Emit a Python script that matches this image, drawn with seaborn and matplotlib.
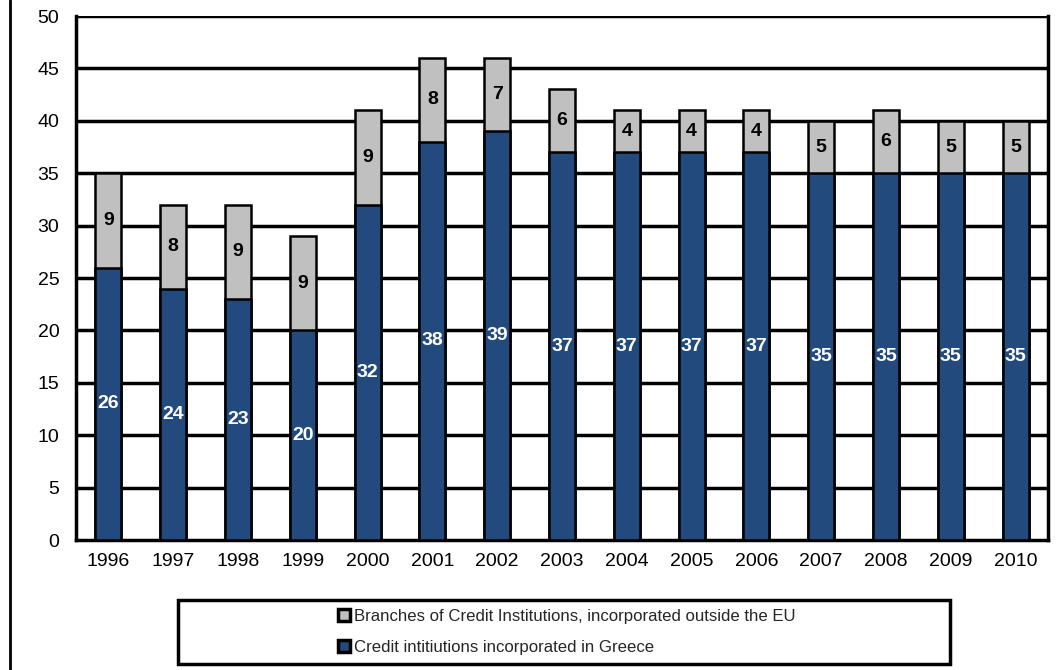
import matplotlib
matplotlib.use("Agg")
import matplotlib.pyplot as plt
import seaborn as sns
import pandas as pd
import numpy as np
from matplotlib.patches import Rectangle, Patch
from matplotlib.lines import Line2D

years = ["1996", "1997", "1998", "1999", "2000", "2001", "2002", "2003",
         "2004", "2005", "2006", "2007", "2008", "2009", "2010"]
greece = [26, 24, 23, 20, 32, 38, 39, 37, 37, 37, 37, 35, 35, 35, 35]
branches = [9, 8, 9, 9, 9, 8, 7, 6, 4, 4, 4, 5, 6, 5, 5]
series_names = ["Branches of Credit Institutions, incorporated outside the EU",
                "Credit intitiutions incorporated in Greece"]
yticks = [0, 5, 10, 15, 20, 25, 30, 35, 40, 45, 50]

BLUE = "#224A7D"
GRAY = "#C0C0C0"

sns.set_theme(style="white")
plt.rcParams['font.family'] = ['Liberation Sans', 'DejaVu Sans']

df = pd.DataFrame({"year": years, "greece": greece, "branches": branches})
df["total"] = df["greece"] + df["branches"]

fig = plt.figure(figsize=(10.59, 6.70), dpi=100)
ax = fig.add_axes([0.0718, 0.194, 0.9178, 0.782])

ax.set_axisbelow(True)
for v in yticks[1:]:
    ax.axhline(v, color="black", lw=2.5, zorder=0)

sns.barplot(data=df, x="year", y="total", color=GRAY, width=0.4,
            edgecolor="black", linewidth=1.8, saturation=1, ax=ax, zorder=2)
sns.barplot(data=df, x="year", y="greece", color=BLUE, width=0.4,
            edgecolor="black", linewidth=1.8, saturation=1, ax=ax, zorder=3)

for i, (g, b) in enumerate(zip(greece, branches)):
    ax.text(i, g / 2, str(g), ha="center", va="center", color="white",
            fontsize=14, fontweight="bold", zorder=4)
    ax.text(i, g + b / 2, str(b), ha="center", va="center", color="black",
            fontsize=14, fontweight="bold", zorder=4)

ax.set_ylim(0, 50)
ax.set_xlim(-0.5, len(years) - 0.5)
ax.set_yticks(yticks)
ax.set_yticklabels([str(v) for v in yticks], fontsize=14)
ax.set_xticks(range(len(years)))
ax.set_xticklabels(years, fontsize=14)
ax.tick_params(axis="x", which="major", length=0, pad=9, colors="black")
ax.set_xticks(np.arange(-0.5, len(years) - 0.5, 1.0), minor=True)
ax.tick_params(axis="x", which="minor", length=7, width=2.5, direction="out", color="black")
ax.tick_params(axis="y", length=8, width=2.5, direction="out", color="black", pad=4, labelcolor="black")
ax.set_xlabel("")
ax.set_ylabel("")

for side in ["left", "bottom", "right"]:
    ax.spines[side].set_visible(True)
    ax.spines[side].set_color("black")
    ax.spines[side].set_linewidth(2.5)
ax.spines["top"].set_visible(False)

fig.patches.append(Rectangle((0.168, 0.009), 0.729, 0.0955, transform=fig.transFigure,
                             fill=False, edgecolor="black", linewidth=2.5))
handles = [Patch(facecolor=GRAY, edgecolor="black", linewidth=2.5),
           Patch(facecolor=BLUE, edgecolor="black", linewidth=2.5)]
fig.legend(handles, series_names, loc="center", bbox_to_anchor=(0.535, 0.057),
           frameon=False, fontsize=12.05, handlelength=0.75, handleheight=0.75,
           handletextpad=0.2, labelspacing=0.98)

fig.add_artist(Line2D([0.0095, 0.0095], [0, 1], transform=fig.transFigure,
                      color="black", lw=2))

fig.savefig("out.png", dpi=100)
